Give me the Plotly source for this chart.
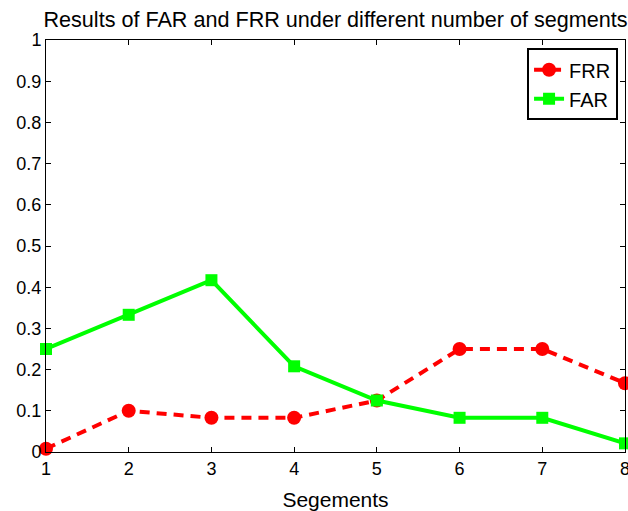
import plotly.graph_objects as go

segments = [1, 2, 3, 4, 5, 6, 7, 8]
frr = [0.008, 0.100, 0.083, 0.083, 0.125, 0.250, 0.250, 0.167]
far = [0.250, 0.333, 0.417, 0.208, 0.125, 0.083, 0.083, 0.021]
y_ticks = [0, 0.1, 0.2, 0.3, 0.4, 0.5, 0.6, 0.7, 0.8, 0.9, 1]
y_labels = ["0", "0.1", "0.2", "0.3", "0.4", "0.5", "0.6", "0.7", "0.8", "0.9", "1"]

font_family = "Liberation Sans, Arial, Helvetica, sans-serif"

fig = go.Figure()
fig.add_trace(go.Scatter(
    x=segments, y=frr, name="FRR", mode="lines+markers",
    line=dict(color="#ff0000", width=4, dash="10px,7px"),
    marker=dict(symbol="circle", size=14, color="#ff0000"),
    cliponaxis=False,
))
fig.add_trace(go.Scatter(
    x=segments, y=far, name="FAR", mode="lines+markers",
    line=dict(color="#00ff00", width=4),
    marker=dict(symbol="square", size=12, color="#00ff00"),
    cliponaxis=False,
))

axis_common = dict(
    showline=True, linecolor="black", linewidth=1, mirror="ticks",
    ticks="inside", ticklen=5, tickcolor="black", tickwidth=1,
    showgrid=False, zeroline=False, ticklabeloverflow="allow",
    automargin=False,
    tickfont=dict(family=font_family, size=18, color="black"),
)

fig.update_layout(
    width=628, height=511,
    margin=dict(l=46, r=3, t=40, b=59),
    paper_bgcolor="white", plot_bgcolor="white",
    font=dict(family=font_family, color="black"),
    title=dict(text="Results of FAR and FRR under different number of segments",
               x=0.5, xref="paper", xanchor="center",
               y=0.961, yref="container", yanchor="middle",
               font=dict(size=21.6, color="black")),
    xaxis=dict(range=[1, 8], tickvals=segments, title=dict(text="Segements", font=dict(size=21), standoff=14),
               **axis_common),
    yaxis=dict(range=[0, 1], tickvals=y_ticks, ticktext=y_labels, **axis_common),
    legend=dict(x=0.988, y=0.98, xanchor="right", yanchor="top",
                bordercolor="black", borderwidth=2, bgcolor="white",
                font=dict(size=20, color="black"),
                tracegroupgap=0),
    showlegend=True,
)

fig.write_html("out.html")
